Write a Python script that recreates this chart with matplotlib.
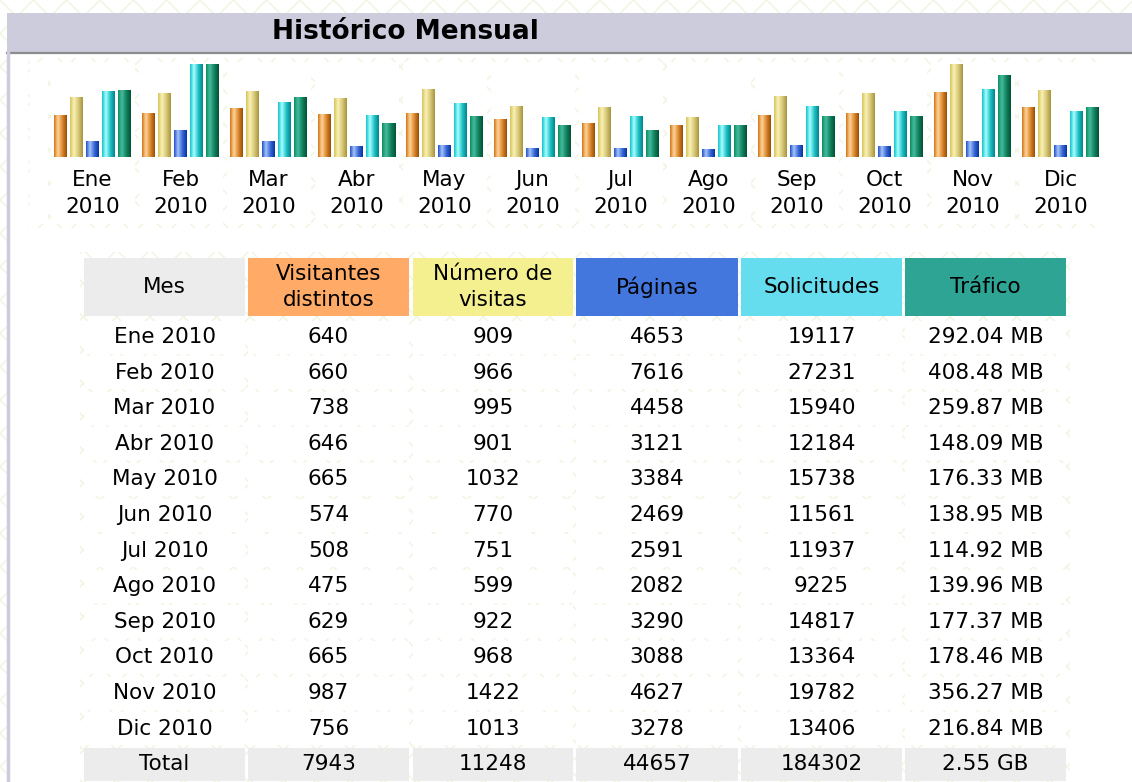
import numpy as np
import matplotlib.pyplot as plt
from matplotlib.patches import Rectangle
from matplotlib.colors import LinearSegmentedColormap

plt.rcParams['font.family'] = ['DejaVu Sans']
plt.rcParams['hatch.color'] = '#F1F5E4'
plt.rcParams['hatch.linewidth'] = 1.2

months = ['Ene', 'Feb', 'Mar', 'Abr', 'May', 'Jun', 'Jul', 'Ago', 'Sep', 'Oct', 'Nov', 'Dic']
year = '2010'
visitors = [640, 660, 738, 646, 665, 574, 508, 475, 629, 665, 987, 756]
visits = [909, 966, 995, 901, 1032, 770, 751, 599, 922, 968, 1422, 1013]
pages = [4653, 7616, 4458, 3121, 3384, 2469, 2591, 2082, 3290, 3088, 4627, 3278]
hits = [19117, 27231, 15940, 12184, 15738, 11561, 11937, 9225, 14817, 13364, 19782, 13406]
traffic_mb = [292.04, 408.48, 259.87, 148.09, 176.33, 138.95, 114.92, 139.96, 177.37, 178.46, 356.27, 216.84]
total_row = ['Total', '7943', '11248', '44657', '184302', '2.55 GB']
headers = ['Mes', 'Visitantes\ndistintos', 'Número de\nvisitas', 'Páginas', 'Solicitudes', 'Tráfico']
header_colors = ['#ECECEC', '#FFAA66', '#F4F090', '#4477DD', '#66DDEE', '#2EA495']

# bar gradients (left edge, highlight, middle, right edge)
bar_grads = [
    ['#D47818', '#FFD49A', '#DC8A30', '#9A4E00'],
    ['#D6C460', '#FAF2B4', '#D8C878', '#A89640'],
    ['#2454CC', '#A4C4FA', '#3A6AD8', '#0636A0'],
    ['#14C4CC', '#A8FFFF', '#22C2C8', '#00868E'],
    ['#0E8E68', '#46BC9C', '#12825E', '#005436'],
]

W, H = 1132, 782
fig = plt.figure(figsize=(W / 100, H / 100), dpi=100)
fig.patch.set_facecolor('white')

bg = fig.add_axes([0, 0, 1, 1])
bg.set_xlim(0, W)
bg.set_ylim(H, 0)
bg.axis('off')

def hatch_rect(x, y, w, h):
    bg.add_patch(Rectangle((x, y), w, h, facecolor='white', edgecolor='#F1F5E4',
                           hatch='x', linewidth=0, zorder=0))

# page pattern
hatch_rect(0, 0, W, 13)
hatch_rect(0, 0, 7, H)
hatch_rect(28, 58, 1074, 170)
hatch_rect(80, 252, 990, H - 252)

# title bar
bg.add_patch(Rectangle((7, 13), W - 7, 39, facecolor='#CCCCDD', edgecolor='none', zorder=1))
bg.plot([7, W], [52.5, 52.5], color='#8C8C8C', lw=1.6, zorder=2)
bg.plot([8, 8], [52, H], color='#CCCCDD', lw=2.5, zorder=2)
bg.text(405, 32, 'Histórico Mensual', fontsize=19, fontweight='bold',
        ha='center', va='center', zorder=3)

# white cells of the chart table
for i in range(len(months)):
    bg.add_patch(Rectangle((50.5 + 88 * i, 62), 84, 162, facecolor='white',
                           edgecolor='none', zorder=1))
bg.add_patch(Rectangle((30, 62), 18, 162, facecolor='white', edgecolor='none', zorder=1))

# bar chart
ax = fig.add_axes([48.5 / W, (H - 157) / H, 1056 / W, 93 / H])
ax.patch.set_alpha(0)
for s in ax.spines.values():
    s.set_visible(False)

vmax = max(visits)
hmax = max(hits)
kmax = max(traffic_mb)
series = [
    [v / vmax for v in visitors],
    [v / vmax for v in visits],
    [p / hmax for p in pages],
    [h / hmax for h in hits],
    [k / kmax for k in traffic_mb],
]
bw = 13 / 88
pitch = 16 / 88
for j, vals in enumerate(series):
    cmap = LinearSegmentedColormap.from_list('g%d' % j, list(zip([0, 0.3, 0.65, 1], bar_grads[j])))
    grad = cmap(np.linspace(0, 1, 32))[None, :, :3]
    for i, v in enumerate(vals):
        x0 = i - 38.5 / 88 + j * pitch
        ax.imshow(grad, extent=(x0, x0 + bw, 0, v), aspect='auto',
                  interpolation='bilinear', zorder=2)
ax.set_xlim(-0.5, len(months) - 0.5)
ax.set_ylim(0, 1)
ax.set_xticks(range(len(months)))
ax.set_xticklabels(['%s\n%s' % (m, year) for m in months], fontsize=15.5, linespacing=1.45)
ax.tick_params(axis='x', length=0, pad=9)
ax.set_yticks([])

# data table
col_x = [(84, 245), (248, 409), (413, 573), (576, 738), (741, 902), (905, 1066)]
for (x0, x1), head, c in zip(col_x, headers, header_colors):
    bg.add_patch(Rectangle((x0, 258), x1 - x0, 58, facecolor=c, edgecolor='none', zorder=1))
    bg.text((x0 + x1) / 2, 287, head, fontsize=15.5, ha='center', va='center',
            linespacing=1.35, zorder=3)

rows = []
for i, m in enumerate(months):
    rows.append(['%s %s' % (m, year), str(visitors[i]), str(visits[i]), str(pages[i]),
                 str(hits[i]), '%.2f MB' % traffic_mb[i]])
rows.append(total_row)

for r, row in enumerate(rows):
    yc = 337 + 35.6 * r
    face = '#ECECEC' if r == len(rows) - 1 else 'white'
    for (x0, x1), cell in zip(col_x, row):
        bg.add_patch(Rectangle((x0, yc - 16.5), x1 - x0, 33, facecolor=face,
                               edgecolor='none', zorder=1))
        bg.text((x0 + x1) / 2, yc, cell, fontsize=15.5, ha='center', va='center', zorder=3)

fig.savefig('out.png', dpi=100)
